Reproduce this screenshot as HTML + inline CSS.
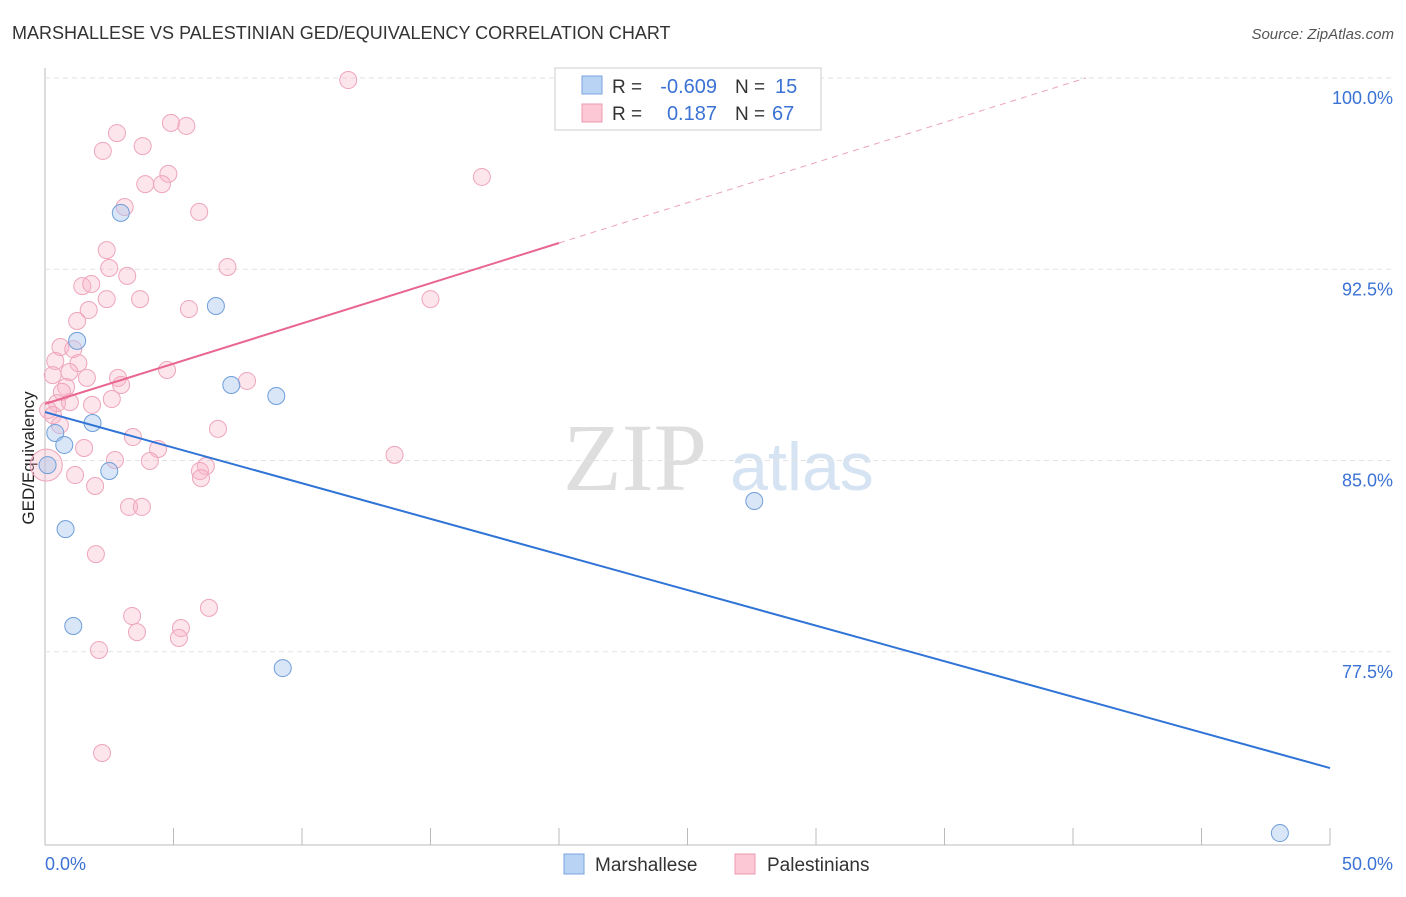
<!DOCTYPE html>
<html><head><meta charset="utf-8"><style>
body{margin:0;background:#fff;font-family:"Liberation Sans",sans-serif;}
svg text{font-family:"Liberation Sans",sans-serif;}
</style></head><body>
<svg id="c" width="1406" height="892" xmlns="http://www.w3.org/2000/svg">
<text x="12" y="39" font-size="18" fill="#333">MARSHALLESE VS PALESTINIAN GED/EQUIVALENCY CORRELATION CHART</text>
<text x="1394" y="39" font-size="15" fill="#555" font-style="italic" text-anchor="end">Source: ZipAtlas.com</text>
<text x="34" y="458" font-size="17" fill="#222" text-anchor="middle" transform="rotate(-90 34 458)">GED/Equivalency</text>
<text x="635" y="490" font-size="96" fill="#dedede" style="font-family:'Liberation Serif',serif" text-anchor="middle">ZIP</text>
<text x="802" y="490" font-size="68" fill="#d5e3f3" text-anchor="middle">atlas</text>
<g id="grid"></g><g id="marks"></g>
<g>
<rect x="555" y="68" width="266" height="62" fill="#fff" stroke="#ccc"/>
<rect x="582" y="76" width="20" height="18" fill="#b9d3f5" stroke="#7aa6e0"/>
<rect x="582" y="104" width="20" height="18" fill="#fcc8d6" stroke="#ee9ab2"/>
<text x="612" y="93" font-size="19" fill="#333">R = </text><text x="717" y="93" font-size="20" fill="#3b72d4" text-anchor="end">-0.609</text>
<text x="735" y="93" font-size="19" fill="#333">N = </text><text x="775" y="93" font-size="20" fill="#3b72d4">15</text>
<text x="612" y="120" font-size="19" fill="#333">R = </text><text x="717" y="120" font-size="20" fill="#3b72d4" text-anchor="end">0.187</text>
<text x="735" y="120" font-size="19" fill="#333">N = </text><text x="772" y="120" font-size="20" fill="#3b72d4">67</text>
</g>
<g>
<rect x="564" y="854" width="20" height="20" fill="#b9d3f5" stroke="#7aa6e0"/>
<text x="595" y="871" font-size="19" fill="#333">Marshallese</text>
<rect x="735" y="854" width="20" height="20" fill="#fcc8d6" stroke="#ee9ab2"/>
<text x="767" y="871" font-size="19" fill="#333">Palestinians</text>
</g>
</svg>
<script>
const yTicks=[100,92.5,85,77.5];
const blueX=[0.1,0.4,0.75,0.8,1.1,1.25,1.85,2.5,2.95,6.65,7.25,9.0,9.25,27.6,48.05];
const blueY=[84.82,86.08,85.61,82.31,78.51,89.69,86.47,84.59,94.71,91.06,87.96,87.53,76.86,83.41,70.39];
const pinkX=[11.8,4.9,5.5,2.8,3.8,2.25,4.8,17.0,3.9,4.55,3.1,6.0,2.4,7.1,2.5,3.2,1.45,1.8,2.4,3.7,15.0,1.7,5.6,1.25,0.6,1.1,0.4,1.3,4.75,0.3,0.95,1.63,2.84,7.86,0.82,2.96,0.66,0.47,0.97,2.6,1.83,0.12,0.31,0.58,3.42,6.73,1.52,4.4,2.72,4.08,13.6,6.26,6.03,6.07,1.17,1.95,3.27,3.77,1.98,3.39,6.38,3.58,5.29,5.21,2.1,2.22,0.05];
const pinkY=[99.92,98.24,98.12,97.84,97.33,97.14,96.24,96.12,95.84,95.84,94.94,94.75,93.25,92.59,92.55,92.24,91.84,91.92,91.33,91.33,91.33,90.9,90.94,90.47,89.45,89.37,88.9,88.82,88.55,88.35,88.47,88.24,88.24,88.12,87.88,87.96,87.69,87.25,87.29,87.41,87.18,86.98,86.78,86.39,85.92,86.24,85.49,85.45,85.02,84.98,85.22,84.78,84.59,84.31,84.43,84.0,83.18,83.18,81.33,78.9,79.22,78.27,78.43,78.04,77.57,73.53,84.82];
const blueLine=[[0,86.9],[50,72.94]];
const pinkLine=[[0,87.22],[20,93.53]];
const pinkDash=[[20,93.53],[40.5,100]];
const X=v=>45+v/50*1285, Y=v=>78+(100-v)*25.5;
const NS="http://www.w3.org/2000/svg";
const g=document.getElementById('grid'), m=document.getElementById('marks');
function mk(t,a,p){const e=document.createElementNS(NS,t);for(const k in a)e.setAttribute(k,a[k]);p.appendChild(e);return e;}
let e;
e=mk('line',{x1:45,y1:68,x2:45,y2:845,stroke:'#bbb'},g);


e=mk('line',{x1:45,y1:845,x2:1330,y2:845,stroke:'#bbb'},g);


yTicks.forEach(t=>{
 e=mk('line',{x1:45,y1:Y(t),x2:1395,y2:Y(t),stroke:'#e2e2e2','stroke-dasharray':'5,4'},g);
 
 
 e=mk('text',{x:1393,y:Y(t)+26,'font-size':18,fill:'#3b72d4','text-anchor':'end'},g);
 e.textContent=(t===100?'100.0':t.toFixed(1))+'%';
 
 
});
for(let i=0;i<=10;i++){e=mk('line',{x1:X(i*5),y1:828,x2:X(i*5),y2:845,stroke:'#bbb'},g);
 
 }
e=mk('text',{x:45,y:870,'font-size':18,fill:'#3b72d4'},g);e.textContent='0.0%';


e=mk('text',{x:1393,y:870,'font-size':18,fill:'#3b72d4','text-anchor':'end'},g);e.textContent='50.0%';


pinkX.forEach((x,i)=>{e=mk('circle',{cx:X(x),cy:Y(pinkY[i]),r:i===pinkX.length-1?16:8.5,fill:'rgba(248,180,200,0.35)',stroke:'#eea5bc','stroke-width':1},m);
 
 });
blueX.forEach((x,i)=>{e=mk('circle',{cx:X(x),cy:Y(blueY[i]),r:8.5,fill:'rgba(170,200,240,0.45)',stroke:'#6f9ed9','stroke-width':1},m);
 
 });
e=mk('line',{x1:X(blueLine[0][0]),y1:Y(blueLine[0][1]),x2:X(blueLine[1][0]),y2:Y(blueLine[1][1]),stroke:'#2f74d6','stroke-width':2},m);


e=mk('line',{x1:X(pinkLine[0][0]),y1:Y(pinkLine[0][1]),x2:X(pinkLine[1][0]),y2:Y(pinkLine[1][1]),stroke:'#e8668f','stroke-width':2},m);


e=mk('line',{x1:X(pinkDash[0][0]),y1:Y(pinkDash[0][1]),x2:X(pinkDash[1][0]),y2:Y(pinkDash[1][1]),stroke:'#eca3ba','stroke-width':1,'stroke-dasharray':'6,5'},m);


</script>
</body></html>
